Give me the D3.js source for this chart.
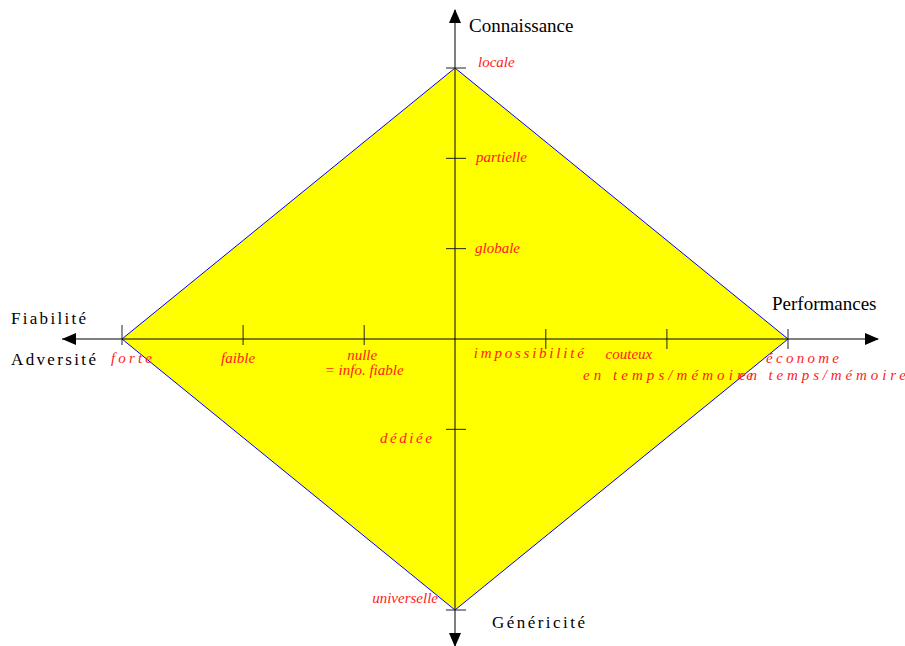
<!DOCTYPE html>
<html>
<head>
<meta charset="utf-8">
<script src="https://cdn.jsdelivr.net/npm/d3@7"></script>
<style>
  body { margin: 0; background: #fff; }
  svg { display: block; }
</style>
</head>
<body>
<div id="chart"></div>
<script>
// Axe horizontal : Fiabilité (gauche) / Performances (droite)
const hValues = [-11, -7, -3, 3, 7, 11];
const hLabels = ['forte', 'faible', 'nulle', 'impossibilité', 'couteux', 'économe'];
const hSub = ['', '', '= info. fiable', '', 'en temps/mémoire', 'en temps/mémoire'];

// Axe vertical : Connaissance (haut) / Généricité (bas)
const vValues = [3, 2, 1, -1, -3];
const vLabels = ['locale', 'partielle', 'globale', 'dédiée', 'universelle'];

// Sommets du losange (x, y en unités d'axe)
const diamondX = [0, 11, 0, -11];
const diamondY = [3, 0, -3, 0];

const width = 905, height = 646;

const x = d3.scaleLinear().domain([-11, 11]).range([122, 788]);
const y = d3.scaleLinear().domain([-3, 3]).range([610, 68]);
const cx = x(0), cy = y(0);

const svg = d3.select('#chart').append('svg')
    .attr('width', width)
    .attr('height', height);

//Losange
svg.append('polygon')
    .attr('points', diamondX.map((d, i) => x(d) + ',' + y(diamondY[i])).join(' '))
    .attr('fill', '#ffff00')
    .attr('stroke', '#0000ff')
    .attr('stroke-width', 1);

//Axes
svg.append('line')
    .attr('x1', 62).attr('x2', 878)
    .attr('y1', cy).attr('y2', cy)
    .attr('stroke', '#000').attr('stroke-width', 1);
svg.append('line')
    .attr('x1', cx).attr('x2', cx)
    .attr('y1', 10).attr('y2', 646)
    .attr('stroke', '#000').attr('stroke-width', 1);

//Flèches
const arrows = [
    [[62, cy], [76, cy - 6], [76, cy + 6]],
    [[879, cy], [865, cy - 6], [865, cy + 6]],
    [[cx, 9], [cx - 6, 23], [cx + 6, 23]],
    [[cx, 647], [cx - 6, 633], [cx + 6, 633]]
];
svg.selectAll('.arrow')
    .data(arrows)
    .enter()
    .append('polygon')
    .attr('class', 'arrow')
    .attr('points', d => d.map(p => p.join(',')).join(' '))
    .attr('fill', '#000');

//Graduations
svg.selectAll('.htick')
    .data(hValues)
    .enter()
    .append('line')
    .attr('x1', d => x(d)).attr('x2', d => x(d))
    .attr('y1', d => d < 0 ? cy - 14 : cy - 10)
    .attr('y2', d => d < 0 ? cy + 6 : cy + 10)
    .attr('stroke', '#222').attr('stroke-width', 1);

svg.selectAll('.vtick')
    .data(vValues)
    .enter()
    .append('line')
    .attr('x1', cx - 9).attr('x2', cx + 11)
    .attr('y1', d => y(d)).attr('y2', d => y(d))
    .attr('stroke', '#222').attr('stroke-width', 1);

//Étiquettes
const red = '#ff1a1a';
function label(txt, px, py, opts) {
    opts = opts || {};
    const t = svg.append('text')
        .attr('x', px).attr('y', py)
        .attr('font-family', '"Liberation Serif", "DejaVu Serif", serif')
        .attr('font-size', opts.size || 15)
        .attr('fill', opts.color || red)
        .attr('text-anchor', opts.anchor || 'start')
        .text(txt);
    if (opts.italic !== false) t.attr('font-style', 'italic');
    if (opts.len) t.attr('textLength', opts.len).attr('lengthAdjust', 'spacing');
    return t;
}

// horizontal
const hLayout = [
    {dx: -11, dy: 24, anchor: 'start', len: 41},
    {dx: -5, dy: 24, anchor: 'middle'},
    {dx: -2, dy: 21, anchor: 'middle', sub: {dx: 0, dy: 36}},
    {dx: -72, dy: 19, anchor: 'start', len: 110},
    {dx: -38, dy: 20, anchor: 'middle', sub: {dx: -84, dy: 41, len: 170}},
    {dx: -22, dy: 24, anchor: 'start', len: 73, sub: {dx: -49, dy: 41, len: 167}}
];
hValues.forEach((v, i) => {
    const l = hLayout[i];
    label(hLabels[i], x(v) + l.dx, cy + l.dy, {anchor: l.anchor, len: l.len});
    if (hSub[i]) {
        const s = l.sub;
        label(hSub[i], x(v) + s.dx, cy + s.dy, {anchor: s.len ? 'start' : 'middle', len: s.len});
    }
});

// vertical
const vLayout = [
    {dx: 23, dy: -1},
    {dx: 21, dy: 4},
    {dx: 20, dy: 4},
    {dx: -75, dy: 14, len: 52},
    {dx: -17, dy: -7, anchor: 'end'}
];
vValues.forEach((v, i) => {
    const l = vLayout[i];
    label(vLabels[i], cx + l.dx, y(v) + l.dy, {len: l.len, anchor: l.anchor});
});

// titres des axes
label('Connaissance', 469, 32, {size: 19, color: '#000', italic: false});
label('Performances', 772, 310, {size: 19, color: '#000', italic: false});
label('Fiabilité', 11, 324, {size: 17, color: '#000', italic: false, len: 75});
label('Adversité', 11, 365, {size: 17, color: '#000', italic: false, len: 85});
label('Généricité', 492, 628, {size: 17, color: '#000', italic: false, len: 93});
</script>
</body>
</html>
